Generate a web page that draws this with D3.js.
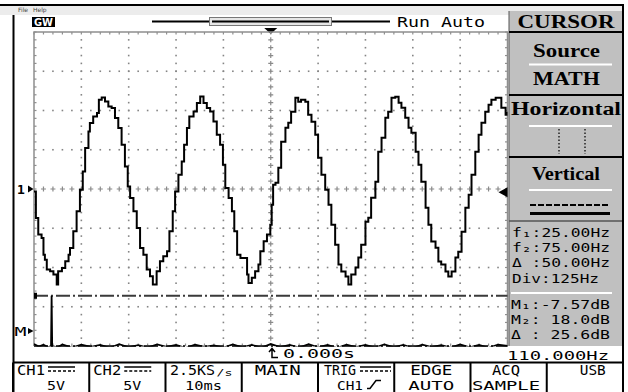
<!DOCTYPE html>
<html><head><meta charset="utf-8">
<script src="https://cdn.jsdelivr.net/npm/d3@7/dist/d3.min.js"></script>
<style>
html,body{margin:0;padding:0;background:#fff;overflow:hidden}
svg{display:block}
</style></head>
<body>
<svg id="scope" width="628" height="392"></svg>
<script>
// CH1 record: time from trigger (ms) and sampled voltage (V)
const timeMs = [-50.0,-49.6,-49.1,-48.4,-48.0,-47.7,-47.3,-46.6,-45.9,-45.2,-44.9,-44.1,-43.4,-42.7,-42.4,-41.7,-41.0,-40.3,-39.7,-39.2,
  -38.5,-38.2,-37.5,-36.7,-36.3,-35.7,-35.0,-34.3,-33.6,-32.9,-32.2,-31.5,-30.8,-30.2,-29.7,-29.0,-28.3,-27.6,-26.9,-26.2,
  -25.5,-24.9,-24.1,-23.4,-22.7,-21.9,-21.4,-20.7,-20.2,-19.5,-18.8,-18.3,-17.7,-17.2,-16.3,-15.6,-14.9,-14.2,-13.5,-12.8,
  -12.1,-11.4,-10.7,-10.1,-9.6,-8.9,-8.2,-7.7,-7.1,-6.4,-5.8,-5.0,-4.7,-4.0,-3.3,-2.6,-2.2,-1.5,-0.8,-0.1,
  0.2,0.5,1.0,1.6,2.2,3.1,3.7,4.3,5.2,5.8,6.4,7.3,7.9,8.6,9.4,10.0,10.7,11.5,12.2,12.8,
  13.6,14.3,14.9,15.8,16.4,17.0,17.9,18.5,19.1,20.0,20.6,21.2,22.1,22.7,23.4,24.2,24.8,25.5,26.3,27.0,
  27.6,28.4,29.1,29.7,30.6,31.2,31.8,32.7,33.3,33.9,34.8,35.4,36.0,36.9,37.5,38.2,39.0,39.6,40.3,41.1,
  41.8,42.4,43.2,43.9,44.5,45.3,46.0,46.6,47.5,48.1,48.7,49.6,50.0];
const ch1Volts = [-0.31,-3.69,-5.81,-6.23,-8.36,-9.00,-10.27,-10.48,-10.90,-12.18,-10.48,-10.05,-9.21,-8.36,-7.51,-5.39,-2.85,-0.09,2.24,5.22,
  7.33,8.40,9.24,9.67,11.36,11.65,11.15,10.51,10.31,9.03,7.76,5.64,2.88,0.33,-1.15,-2.85,-4.96,-7.51,-8.36,-10.27,
  -11.12,-12.18,-10.48,-9.21,-8.58,-7.94,-5.39,-2.85,-0.31,1.82,3.51,5.64,7.76,9.24,9.87,10.94,11.78,10.94,10.31,9.87,
  8.60,6.91,5.64,3.09,0.13,-1.15,-2.85,-5.39,-8.36,-8.78,-8.78,-10.90,-11.96,-11.32,-10.48,-9.63,-7.94,-6.67,-5.81,-4.54,
  -2.00,0.55,0.80,2.71,6.02,7.80,8.44,9.83,11.62,11.11,11.36,11.11,9.45,8.56,6.91,3.98,1.82,-0.09,-2.00,-4.54,
  -7.09,-9.63,-10.52,-11.16,-12.18,-10.90,-10.01,-8.74,-7.09,-4.16,-3.65,-1.11,0.93,4.75,6.53,9.07,9.83,11.62,11.74,10.98,
  10.34,9.07,7.80,7.16,4.75,3.09,0.93,-2.38,-4.54,-6.70,-7.47,-9.25,-9.63,-10.52,-11.16,-10.52,-8.74,-7.98,-5.43,-2.38,
  -0.73,1.82,4.75,6.91,8.44,9.83,10.73,11.36,11.62,11.62,10.34,9.45,9.83];

// MATH trace (FFT of CH1): frequency (Hz) and magnitude (dB)
const fftHz = [0,12.5,25,37.5,45,46.5,48,62.5,75,100,125,150,175,200,225,250,275,300,325,350,
  375,400,425,450,475,500,525,550,575,600,625,650,675,700,725,750,775,800,825,850,
  875,900,925,950,975,1000,1025,1050,1075,1100,1125,1150,1175,1200,1225,1250];
const fftDb = [-6.6,-7.9,-6.9,-8.2,-7.7,18.0,-7.6,-8.3,-6.8,-8.4,-6.9,-8.1,-7.0,-8.5,-6.7,-8.3,-7.2,-8.4,-6.8,-8.0,
  -7.0,-8.6,-6.9,-8.1,-7.3,-8.4,-6.8,-8.3,-7.0,-8.5,-6.6,-8.2,-7.1,-8.4,-6.7,-8.3,-7.0,-8.6,-6.9,-8.2,
  -7.1,-8.4,-6.8,-8.3,-7.0,-8.6,-6.9,-8.2,-7.2,-8.4,-6.8,-8.3,-7.0,-8.5,-6.9,-7.6];

// cursor and status readouts
const cursorDb = [-7.57, 18.0];
const freqReadout = ["f\u2081:25.00Hz", "f\u2082:75.00Hz", "\u0394 :50.00Hz", "Div:125Hz"];
const magReadout = ["M\u2081:-7.57dB", "M\u2082: 18.0dB", "\u0394 : 25.6dB"];
const trigLevelV = -0.4;
const trigTimeMs = 0;
const timeReadout = "0.000s";
const trigFreqReadout = "110.000Hz";
const menuTitle = "CURSOR";
const menuItems = ["Source", "MATH", "Horizontal", "Vertical"];
const softkeyTop = ["CH1", "CH2", "2.5KS", "MAIN", "TRIG", "EDGE", "ACQ", "USB"];
const softkeyBottom = ["5V", "5V", "10ms", "", "CH1", "AUTO", "SAMPLE", ""];

const MONO = "'DejaVu Sans Mono', 'Liberation Mono', monospace";
const SERIF = "'Liberation Serif', 'DejaVu Serif', serif";

const svg = d3.select("#scope");
svg.append("rect").attr("width", 628).attr("height", 392).attr("fill", "#fff");

// graticule area: 10 x 8 divisions
const P = {x0: 34, x1: 507.5, y0: 32, y1: 346};
const x = d3.scaleLinear().domain([-50, 50]).range([P.x0, P.x1]);   // 10 ms/div
const y = d3.scaleLinear().domain([-20, 20]).range([P.y1, P.y0]);   // 5 V/div
const fx = d3.scaleLinear().domain([0, 1250]).range([P.x0, P.x1]);  // 125 Hz/div
const mathRefDiv = -3.62, dbPerDiv = 20;
const fy = d3.scaleLinear()
  .domain([(-4 - mathRefDiv) * dbPerDiv, (4 - mathRefDiv) * dbPerDiv])
  .range([P.y1, P.y0]);

function txt(g, px, py, s, o = {}) {
  const t = g.append("text").attr("x", px).attr("y", py).text(s)
    .style("font-family", o.ff || MONO).style("font-size", (o.fs || 13) + "px")
    .style("white-space", "pre").attr("fill", o.fill || "#000");
  if (o.len) t.attr("textLength", o.len).attr("lengthAdjust", "spacingAndGlyphs");
  if (o.anchor) t.attr("text-anchor", o.anchor);
  if (o.bold) t.style("font-weight", "bold");
  return t;
}

// window frame and menu bar
svg.append("rect").attr("x", 0).attr("y", 6).attr("width", 623).attr("height", 9).attr("fill", "#ececec");
svg.append("line").attr("x1", 0).attr("x2", 624).attr("y1", 5).attr("y2", 5).attr("stroke", "#000").attr("stroke-width", 2);
txt(svg, 18, 12, "File", {ff: "'DejaVu Sans', sans-serif", fs: 6, fill: "#444"});
txt(svg, 33, 12, "Help", {ff: "'DejaVu Sans', sans-serif", fs: 6, fill: "#444"});
svg.append("line").attr("x1", 13.5).attr("x2", 13.5).attr("y1", 15).attr("y2", 392).attr("stroke", "#000").attr("stroke-width", 2);
svg.append("line").attr("x1", 623).attr("x2", 623).attr("y1", 5).attr("y2", 392).attr("stroke", "#000").attr("stroke-width", 2);

// logo
svg.append("rect").attr("x", 32).attr("y", 17).attr("width", 23).attr("height", 10).attr("fill", "#000");
txt(svg, 43.5, 26, "GW", {ff: "'DejaVu Sans', sans-serif", fs: 10, bold: true, fill: "#fff", anchor: "middle", len: 19});

// record position bar
svg.append("line").attr("x1", 152).attr("x2", 390).attr("y1", 21.5).attr("y2", 21.5).attr("stroke", "#000").attr("stroke-width", 2);
svg.append("rect").attr("x", 209.5).attr("y", 17.5).attr("width", 122).attr("height", 8)
  .attr("fill", "#e6e6e6").attr("stroke", "#777").attr("stroke-width", 1);
svg.append("line").attr("x1", 212).attr("x2", 329).attr("y1", 21.5).attr("y2", 21.5).attr("stroke", "#000").attr("stroke-width", 2);
txt(svg, 397, 27, "Run Auto", {fs: 14, len: 88});

// trigger position marker
const tx = x(trigTimeMs);
svg.append("path").attr("d", `M${tx - 6.5},28 L${tx + 6.5},28 L${tx},34 Z`).attr("fill", "#000");

// --- graticule ---
const grid = svg.append("g");
const minorX = d3.range(-50, 50.001, 2);
const minorY = d3.range(-20, 20.001, 1);
const majorX = d3.range(-40, 40.001, 10).filter(v => Math.abs(v) > 1e-9);
const majorY = d3.range(-15, 15.001, 5).filter(v => Math.abs(v) > 1e-9);
const dotC = "#858585";
majorX.forEach(mx => minorY.slice(1, -1).forEach(my => {
  grid.append("rect").attr("x", x(mx) - 0.8).attr("y", y(my) - 0.8).attr("width", 1.6).attr("height", 1.6).attr("fill", dotC);
}));
majorY.forEach(my => minorX.slice(1, -1).forEach(mx => {
  grid.append("rect").attr("x", x(mx) - 0.8).attr("y", y(my) - 0.8).attr("width", 1.6).attr("height", 1.6).attr("fill", dotC);
}));
// centre lines carry small crosses
const cross = (cx, cy) => grid.append("path")
  .attr("d", `M${cx - 2.5},${cy} H${cx + 2.5} M${cx},${cy - 2.5} V${cy + 2.5}`)
  .attr("stroke", "#8a8a8a").attr("stroke-width", 1.2);
minorY.slice(1, -1).forEach(my => cross(x(0), y(my)));
minorX.slice(1, -1).forEach(mx => cross(x(mx), y(0)));
// border with edge ticks
const bc = "#8f8f8f";
grid.append("path").attr("d", `M${P.x0},${P.y1} V${P.y0} H${P.x1} V${P.y1}`)
  .attr("fill", "none").attr("stroke", bc).attr("stroke-width", 1.5);
minorX.forEach(mx => {
  grid.append("line").attr("x1", x(mx)).attr("x2", x(mx)).attr("y1", P.y0).attr("y2", P.y0 + 2.5).attr("stroke", bc).attr("stroke-width", 1.2);
  grid.append("line").attr("x1", x(mx)).attr("x2", x(mx)).attr("y1", P.y1).attr("y2", P.y1 - 2.5).attr("stroke", bc).attr("stroke-width", 1.2);
});
minorY.forEach(my => {
  grid.append("line").attr("x1", P.x0).attr("x2", P.x0 + 2.5).attr("y1", y(my)).attr("y2", y(my)).attr("stroke", bc).attr("stroke-width", 1.2);
  grid.append("line").attr("x1", P.x1).attr("x2", P.x1 - 2.5).attr("y1", y(my)).attr("y2", y(my)).attr("stroke", bc).attr("stroke-width", 1.2);
});

svg.append("clipPath").attr("id", "plotClip").append("rect")
  .attr("x", P.x0).attr("y", P.y0 - 1).attr("width", P.x1 - P.x0).attr("height", P.y1 - P.y0 + 1.5);

// dB cursors (dash-dot)
cursorDb.forEach(db => {
  svg.append("line").attr("x1", P.x0).attr("x2", P.x1).attr("y1", fy(db)).attr("y2", fy(db))
    .attr("stroke", "#3a3a3a").attr("stroke-width", 2).attr("stroke-dasharray", "14,3,2,3");
});
svg.append("rect").attr("x", P.x0).attr("y", fy(cursorDb[1]) - 3).attr("width", 3).attr("height", 6).attr("fill", "#000");

// MATH (FFT) trace
const fftData = fftHz.map((f, i) => ({f, db: fftDb[i]}));
svg.append("path").datum(fftData).attr("clip-path", "url(#plotClip)")
  .attr("d", d3.line().x(d => fx(d.f)).y(d => fy(d.db)))
  .attr("fill", "none").attr("stroke", "#000").attr("stroke-width", 1.8);

// CH1 trace
const ch1 = timeMs.map((t, i) => ({t, v: ch1Volts[i]}));
svg.append("path").datum(ch1).attr("clip-path", "url(#plotClip)")
  .attr("d", d3.line().x(d => x(d.t)).y(d => y(d.v)).curve(d3.curveStepAfter))
  .attr("fill", "none").attr("stroke", "#000").attr("stroke-width", 2).attr("stroke-linejoin", "miter");

// channel markers
txt(svg, 17, y(0) + 5, "1", {fs: 13, bold: true});
svg.append("path").attr("d", `M28,${y(0) - 3.5} L33.5,${y(0)} L28,${y(0) + 3.5} Z`).attr("fill", "#000");
txt(svg, 14.5, fy(0) + 5, "M", {fs: 12, len: 12});
svg.append("path").attr("d", `M28,${fy(0) - 3} L33.5,${fy(0)} L28,${fy(0) + 3} Z`).attr("fill", "#000");
// trigger level marker
const tl = y(trigLevelV);
svg.append("path").attr("d", `M${P.x1},${tl - 5} L${P.x1 - 9},${tl} L${P.x1},${tl + 5} Z`).attr("fill", "#000");

// --- side menu ---
const panel = svg.append("g");
const PX0 = 509, PX1 = 622;
panel.append("rect").attr("x", PX0).attr("y", 11).attr("width", PX1 - PX0).attr("height", 335).attr("fill", "#c0c0c0");
panel.append("line").attr("x1", PX0).attr("x2", PX0).attr("y1", 11).attr("y2", 346).attr("stroke", "#555").attr("stroke-width", 1);
const hline = (yy, c, w, a = PX0, b = PX1) => panel.append("line").attr("x1", a).attr("x2", b)
  .attr("y1", yy).attr("y2", yy).attr("stroke", c).attr("stroke-width", w);
hline(32, "#000", 2); hline(95, "#000", 2); hline(157, "#000", 2); hline(221, "#555", 1.5);
hline(64.5, "#fff", 2, 529, 612); hline(126, "#fff", 2, 529, 612); hline(190, "#fff", 2, 529, 612);
hline(293, "#fff", 2, 511, 612);
txt(panel, 566, 27.5, menuTitle, {ff: SERIF, fs: 19, bold: true, anchor: "middle", len: 97});
txt(panel, 566.5, 56.5, menuItems[0], {ff: SERIF, fs: 18, bold: true, anchor: "middle", len: 67});
txt(panel, 566.5, 85, menuItems[1], {ff: SERIF, fs: 18, bold: true, anchor: "middle", len: 67});
txt(panel, 566, 115, menuItems[2], {ff: SERIF, fs: 18, bold: true, anchor: "middle", len: 110});
txt(panel, 566, 180, menuItems[3], {ff: SERIF, fs: 18, bold: true, anchor: "middle", len: 68});
[559, 585].forEach(dx => panel.append("line").attr("x1", dx).attr("x2", dx).attr("y1", 129).attr("y2", 154)
  .attr("stroke", "#222").attr("stroke-width", 1.5).attr("stroke-dasharray", "1.5,2"));
hline(205, "#000", 2, 530, 610).attr("stroke-dasharray", "6,2");
hline(213.5, "#000", 3, 530, 610);

const fLines = [236.5, 251.5, 266.5, 283];
const fLens = [98, 98, 98, 87];
freqReadout.forEach((s, i) => txt(panel, 512, fLines[i], s, {fs: 13, len: fLens[i]}));
const mLines = [308.5, 323.5, 339];
magReadout.forEach((s, i) => txt(panel, 511, mLines[i], s, {fs: 13, len: 99}));

// status line under the graticule
svg.append("path").attr("d", "M269,352 L272,348.5 L275,352 M272,349 V357.5 H278")
  .attr("fill", "none").attr("stroke", "#000").attr("stroke-width", 1.5);
txt(svg, 283, 358, timeReadout, {fs: 13, len: 72});
txt(svg, 507, 360, trigFreqReadout, {fs: 13, len: 102});

// --- soft keys ---
const K0 = 13, K1 = 623, kw = (K1 - K0) / 8;
const keys = svg.append("g");
keys.append("line").attr("x1", K0).attr("x2", K1).attr("y1", 362.5).attr("y2", 362.5).attr("stroke", "#000").attr("stroke-width", 2);
d3.range(9).forEach(i => keys.append("line").attr("x1", K0 + i * kw).attr("x2", K0 + i * kw)
  .attr("y1", 362.5).attr("y2", 392).attr("stroke", "#000").attr("stroke-width", 2));
const dcSym = (a, b) => {
  keys.append("line").attr("x1", a).attr("x2", b).attr("y1", 367).attr("y2", 367).attr("stroke", "#000").attr("stroke-width", 1.5);
  keys.append("line").attr("x1", a).attr("x2", b).attr("y1", 371).attr("y2", 371).attr("stroke", "#000").attr("stroke-width", 1.5).attr("stroke-dasharray", "3,2");
};
const kl = i => K0 + i * kw;
const T1 = 375, T2 = 389.5, F2 = 13;
// CH1 / CH2
[0, 1].forEach(i => {
  txt(keys, kl(i) + 4, T1, softkeyTop[i], {fs: 14, len: 28});
  dcSym(kl(i) + 35, kl(i) + 62);
  txt(keys, kl(i) + 34, T2, softkeyBottom[i], {fs: F2, len: 18});
});
// sample rate / timebase
txt(keys, kl(2) + 4.5, T1, softkeyTop[2], {fs: 14, len: 45});
txt(keys, kl(2) + 51, T1 + 1, "/s", {fs: 9, len: 16});
txt(keys, kl(2) + 38, T2, softkeyBottom[2], {fs: F2, len: 37, anchor: "middle"});
txt(keys, kl(3) + 36, T1, softkeyTop[3], {fs: 14, len: 46, anchor: "middle"});
// trigger source
txt(keys, kl(4) + 6, T1, softkeyTop[4], {fs: 14, len: 32});
dcSym(kl(4) + 42, kl(4) + 73);
txt(keys, kl(4) + 19, T2, softkeyBottom[4], {fs: F2, len: 26});
keys.append("path").attr("d", `M${kl(4) + 49},${T2 - 1} L${kl(4) + 52},${T2 - 1} L${kl(4) + 58},${T2 - 9} L${kl(4) + 63},${T2 - 9}`)
  .attr("fill", "none").attr("stroke", "#000").attr("stroke-width", 1.5);
txt(keys, kl(5) + 37, T1, softkeyTop[5], {fs: 14, len: 42, anchor: "middle"});
txt(keys, kl(5) + 37, T2, softkeyBottom[5], {fs: F2, len: 46, anchor: "middle"});
txt(keys, kl(6) + 35.5, T1, softkeyTop[6], {fs: 14, len: 28, anchor: "middle"});
txt(keys, kl(6) + 35.5, T2, softkeyBottom[6], {fs: F2, len: 68, anchor: "middle"});
txt(keys, kl(7) + 46, T1, softkeyTop[7], {fs: 14, len: 26, anchor: "middle"});
</script>
</body></html>
